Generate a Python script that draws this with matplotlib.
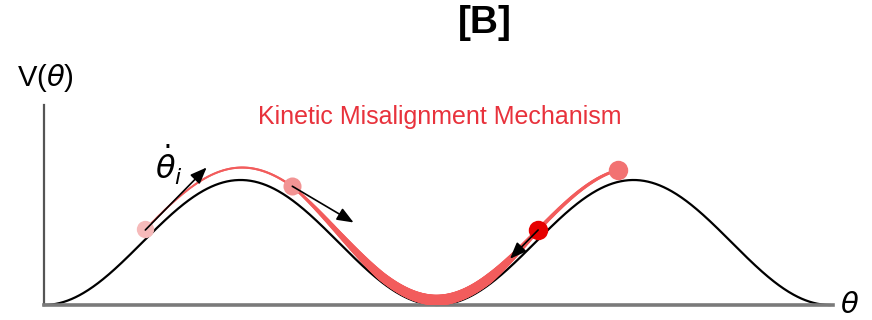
import numpy as np
import matplotlib
matplotlib.use("Agg")
import matplotlib.pyplot as plt
from matplotlib.collections import LineCollection

plt.rcParams["font.family"] = ["Liberation Sans", "DejaVu Sans"]
plt.rcParams["mathtext.fontset"] = "dejavusans"

# potential V(theta) = (1 - cos theta) / 2 over two wells
theta_max = 4 * np.pi

# red trajectory: knots along theta, lift above the potential, line width
traj_theta = [1.62, 3.97, 4.70, 5.40, 6.28, 7.10, 7.55, 7.90, 9.18]
traj_lift = [0.080, 0.110, 0.075, 0.045, 0.038, 0.048, 0.065, 0.078, 0.095]
traj_width = [1.3, 1.6, 3.8, 6.5, 8.0, 7.0, 4.5, 2.8, 2.0]

# snapshots of the particle
dot_theta = [1.62, 3.97, 7.90, 9.18]
dot_color = ["#f6baba", "#f29494", "#e60000", "#f27272"]
dot_size = [12.5, 13, 14, 14]

# velocity arrows (theta, V) start -> end
arrow_start = [(1.62, 0.60), (3.97, 0.95), (7.90, 0.60)]
arrow_end = [(2.60, 1.10), (4.95, 0.66), (7.45, 0.37)]


def potential(t):
    return (1 - np.cos(t)) / 2


fig = plt.figure(figsize=(8.72, 3.2), dpi=100)
ax = fig.add_axes([44 / 872, 15 / 320, 786 / 872, 200 / 320])
ax.set_xlim(0, theta_max)
ax.set_ylim(0, 1.6)

for s in ["top", "right"]:
    ax.spines[s].set_visible(False)
ax.spines["left"].set_color("#555555")
ax.spines["left"].set_linewidth(1.6)
ax.spines["bottom"].set_color("#7a7a7a")
ax.spines["bottom"].set_linewidth(2.6)
ax.spines["bottom"].set_bounds(0, theta_max * 1.004)
ax.set_xticks([])
ax.set_yticks([])

t = np.linspace(0, theta_max, 800)
ax.plot(t, potential(t), color="black", lw=1.6, zorder=2, clip_on=False)

# trajectory with varying width
tt = np.linspace(traj_theta[0], traj_theta[-1], 400)
vv = potential(tt) + np.interp(tt, traj_theta, traj_lift)
ww = np.interp(tt, traj_theta, traj_width)
pts = np.column_stack([tt, vv]).reshape(-1, 1, 2)
segs = np.concatenate([pts[:-1], pts[1:]], axis=1)
lc = LineCollection(segs, linewidths=ww[:-1], colors="#f25c5c",
                    capstyle="round", zorder=3)
ax.add_collection(lc)

for th, c, s in zip(dot_theta, dot_color, dot_size):
    v = potential(th) + np.interp(th, traj_theta, traj_lift)
    ax.plot(th, v, "o", ms=s, color=c, mec="none", zorder=4)

for (x0, y0), (x1, y1) in zip(arrow_start, arrow_end):
    ax.annotate("", xy=(x1, y1), xytext=(x0, y0), zorder=5,
                arrowprops=dict(arrowstyle="-|>,head_length=1.0,head_width=0.4",
                                color="black", lw=1.2, shrinkA=0, shrinkB=0))

ax.text(2.0, 1.12, r"$\dot{\theta}_i$", fontsize=23, ha="center", va="center")
ax.text(theta_max + 0.16, 0.0, r"$\theta$", fontsize=21,
        ha="left", va="center", clip_on=False)

fig.text(45 / 872, 1 - 78 / 320, r"V($\theta$)", fontsize=21,
         ha="center", va="center")
fig.text(485 / 872, 1 - 23 / 320, "[B]", fontsize=28, fontweight="bold",
         ha="center", va="center")
fig.text(440 / 872, 1 - 117 / 320, "Kinetic Misalignment Mechanism",
         fontsize=18, color="#e8323c", ha="center", va="center")

fig.savefig("out.png", dpi=100)
